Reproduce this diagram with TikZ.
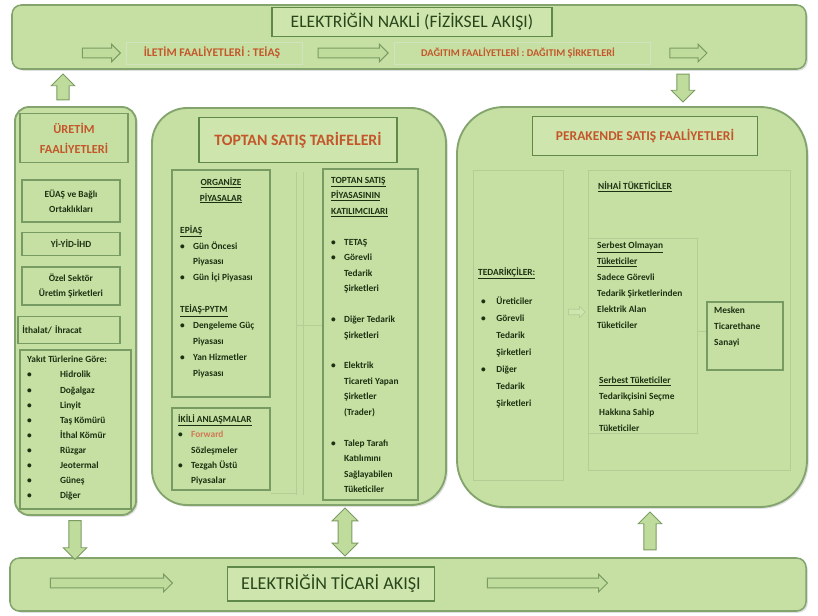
\documentclass[tikz,border=0pt]{standalone}
\usepackage{fontspec}
\setmainfont{Carlito}
\usetikzlibrary{shapes.arrows,fit,positioning,calc,shadows}

\definecolor{vert}{RGB}{198,224,163}
\definecolor{vertclair}{RGB}{206,230,174}
\definecolor{bord}{RGB}{132,164,110}
\definecolor{bordfonce}{RGB}{96,136,72}
\definecolor{filet}{RGB}{178,206,148}
\definecolor{encre}{RGB}{28,48,18}
\definecolor{titrevert}{RGB}{40,70,26}
\definecolor{rouille}{RGB}{196,86,42}
\definecolor{okcizgi}{RGB}{122,156,98}
\definecolor{okdolgu}{RGB}{192,220,156}

\newcommand{\mad}[1][11pt]{\makebox[#1][l]{\textbullet}}
\newcommand{\bos}[1][11pt]{\hspace*{#1}}

\tikzset{
  ombre/.style={drop shadow={shadow xshift=1.5pt, shadow yshift=-1.5pt, opacity=0.25}},
  bande/.style={draw=bord, fill=vert, line width=1.3pt, rounded corners=8pt, inner sep=0pt, ombre},
  panneau/.style={draw=bord, fill=vert, line width=1.6pt, rounded corners=#1, inner sep=0pt, ombre},
  panneau/.default=12pt,
  titre/.style={draw=bordfonce, fill=vertclair, line width=1.1pt, inner sep=0pt},
  boite/.style={draw=bordfonce!85, fill=vert, line width=1.1pt, inner sep=0pt},
  cadre/.style={draw=filet, line width=0.4pt},
  metin/.style={inner sep=0pt, align=left, text=encre, anchor=north west},
  govde/.style={font=\bfseries\fontsize{8}{#1}\selectfont},
  govde/.default=13.2,
  yatayok/.style={single arrow, draw=okcizgi, fill=okdolgu, line width=.8pt, inner sep=0pt, inner ysep=0.13cm,
    minimum width=0.5cm, single arrow head extend=0.12cm, single arrow tip angle=90, minimum height=#1},
  dikeyok/.style={single arrow, draw=okcizgi, fill=okdolgu, line width=.8pt, inner sep=0.17cm,
    minimum width=0.68cm, single arrow head extend=0.17cm, single arrow tip angle=90, minimum height=#1},
  ciftok/.style={double arrow, draw=okcizgi, fill=okdolgu, line width=.8pt, inner sep=0.19cm,
    minimum width=0.75cm, double arrow head extend=0.18cm, double arrow tip angle=90, minimum height=#1}
}

\begin{document}
\begin{tikzpicture}[x=0.03cm, y=-0.03cm]
\useasboundingbox (0,0) rectangle (818,615);

% Bande du haut : flux physique
\node[bande, fit={(12,5) (806,69)}] (nakli) {};
\node[titre, minimum width=8.4cm, minimum height=0.86cm, text=titrevert, font=\fontsize{15}{17}\selectfont] (naklibaslik) at (412,22) {ELEKTRİĞİN NAKLİ (FİZİKSEL AKIŞI)};
\node[text=rouille, font=\bfseries\fontsize{10}{12}\selectfont, inner sep=0pt] (iletim) at (212,53) {İLETİM FAALİYETLERİ : TEİAŞ};
\node[text=rouille, font=\bfseries\fontsize{8.8}{11}\selectfont, inner sep=0pt] (dagitim) at (518,53) {DAĞITIM FAALİYETLERİ : DAĞITIM ŞİRKETLERİ};
\draw[cadre, draw=filet!60] (126,42) rectangle (302,64);
\draw[cadre, draw=filet!60] (394,42) rectangle (650,64);
\node[yatayok=1.14cm] (ok1) at (99,53) {};
\node[yatayok=2.1cm] (ok2) at ($(iletim.east)!0.5!(dagitim.west)$) {};
\node[yatayok=1.11cm] (ok3) at (686,53) {};

% Bande du bas : flux commercial
\node[bande, fit={(10,558) (806,611)}] (ticari) {};
\node[titre, minimum width=6.21cm, minimum height=1.02cm, text=titrevert, font=\fontsize{15.5}{18}\selectfont] (ticaribaslik) at (331,584) {ELEKTRİĞİN TİCARİ AKIŞI};
\node[yatayok=3.66cm] (ok4) at (109,583) {};
\node[yatayok=3.6cm] (ok5) at (545,583) {};

% Colonne de gauche : production
\node[panneau=12pt, fit={(15,107) (136,515)}] (uretim) {};
\node[boite, minimum width=3.24cm, minimum height=1.47cm, text=rouille, align=center, font=\bfseries\fontsize{10.5}{17}\selectfont] (uretimbaslik) at (74,138) {ÜRETİM\\FAALİYETLERİ};
\node[boite, minimum width=2.94cm, minimum height=1.26cm, text=encre, align=center, govde=12.8] (euas) at (71,201) {EÜAŞ ve Bağlı\\Ortaklıkları};
\node[boite, minimum width=2.94cm, minimum height=0.69cm, text=encre, govde] (yiyid) at (71,244) {Yİ-YİD-İHD};
\node[boite, minimum width=2.94cm, minimum height=1.14cm, text=encre, align=center, govde=12.8] (ozel) at (71,286) {Özel Sektör\\Üretim Şirketleri};
\node[boite, minimum width=3.06cm, minimum height=0.81cm, text=encre, govde, text width=2.8cm, align=left] (ithalat) at (69,330) {İthalat/ İhracat};
\node[boite, fit={(20,350) (131,509)}] (yakitkutu) {};
\node[metin, govde=12.9] (yakit) at (27,356) {Yakıt Türlerine Göre:\\
\mad[28pt]Hidrolik\\ \mad[28pt]Doğalgaz\\ \mad[28pt]Linyit\\ \mad[28pt]Taş Kömürü\\ \mad[28pt]İthal Kömür\\
\mad[28pt]Rüzgar\\ \mad[28pt]Jeotermal\\ \mad[28pt]Güneş\\ \mad[28pt]Diğer};

% Panneau central : vente en gros
\node[panneau=30pt, fit={(152,108) (446,505)}] (toptan) {};
\node[titre, minimum width=5.94cm, minimum height=1.35cm, text=rouille, font=\bfseries\fontsize{13.5}{16}\selectfont] (toptanbaslik) at (298,140) {TOPTAN SATIŞ TARİFELERİ};
\node[boite, fit={(172,170) (270,397)}] (organizekutu) {};
\node[inner sep=0pt, align=center, text=encre, govde=13.6, anchor=north] (organize) at (221,177) {\underline{ORGANİZE}\\\underline{PİYASALAR}};
\node[metin, govde=13.6] (epias) at (180,225) {\underline{EPİAŞ}\\
\mad Gün Öncesi\\ \bos Piyasası\\ \mad Gün İçi Piyasası\\[13.6pt]
\underline{TEİAŞ-PYTM}\\ \mad Dengeleme Güç\\ \bos Piyasası\\ \mad Yan Hizmetler\\ \bos Piyasası};
\node[boite, fit={(172,408) (270,490)}] (ikilikutu) {};
\node[metin, govde=13.2] (ikili) at (178,414) {\underline{İKİLİ ANLAŞMALAR}\\
\mad\textcolor{rouille!80}{Forward}\\ \bos Sözleşmeler\\ \mad Tezgah Üstü\\ \bos Piyasalar};
\node[boite, fit={(323,169) (418,500)}] (katilimcikutu) {};
\node[metin, govde=13.2] (katilimci) at (331,177) {\underline{TOPTAN SATIŞ}\\\underline{PİYASASININ}\\\underline{KATILIMCILARI}\\[13.2pt]
\mad TETAŞ\\ \mad Görevli\\ \bos Tedarik\\ \bos Şirketleri\\[13.2pt]
\mad Diğer Tedarik\\ \bos Şirketleri\\[13.2pt]
\mad Elektrik\\ \bos Ticareti Yapan\\ \bos Şirketler\\ \bos (Trader)\\[13.2pt]
\mad Talep Tarafı\\ \bos Katılımını\\ \bos Sağlayabilen\\ \bos Tüketiciler};
% filets verticaux entre les deux colonnes
\draw[cadre] (296,172) -- (296,495);
\draw[cadre] (303,172) -- (303,495);
\draw[cadre] (296,325) -- (katilimcikutu.west |- 0,325);
\draw[cadre] (ikilikutu.east |- 0,493) -- (296,493);

% Panneau de droite : vente au detail
\node[panneau=40pt, fit={(457,107) (807,507)}] (perakende) {};
\node[titre, minimum width=6.75cm, minimum height=1.17cm, text=rouille, font=\bfseries\fontsize{11.5}{14}\selectfont] (perakendebaslik) at (645,136) {PERAKENDE SATIŞ FAALİYETLERİ};
\node[cadre, fit={(473,170) (563,480)}, inner sep=0pt] (tedarikkutu) {};
\node[cadre, fit={(588,170) (790,470)}, inner sep=0pt] (nihaikutu) {};
\draw[cadre] (588,238) -- (697,238) -- (697,433) -- (588,433);
\node[metin, govde] (tedarikbaslik) at (478,267) {\underline{TEDARİKÇİLER:}};
\node[metin, govde=14.5] (tedarik) at (481,297) {\mad[13pt]Üreticiler\\ \mad[13pt]Görevli\\ \bos[13pt]Tedarik\\ \bos[13pt]Şirketleri\\
\mad[13pt]Diğer\\ \bos[13pt]Tedarik\\ \bos[13pt]Şirketleri};
\node[single arrow, draw=filet, fill=vertclair, line width=.6pt, inner sep=0pt, inner ysep=0.07cm, minimum width=0.32cm, single arrow head extend=0.09cm, minimum height=0.5cm] (ok6) at ($(tedarikkutu.east |- 0,312)!0.5!(nihaikutu.west |- 0,312)$) {};
\node[metin, govde] (nihaibaslik) at (598,181) {\underline{NİHAİ TÜKETİCİLER}};
\node[metin, govde=13.6] (serbestolmayan) at (597,242) {\underline{Serbest Olmayan}\\\underline{Tüketiciler}\\Sadece Görevli\\Tedarik Şirketlerinden\\Elektrik Alan\\Tüketiciler};
\node[metin, govde=13.6] (serbest) at (599,377) {\underline{Serbest Tüketiciler}\\Tedarikçisini Seçme\\Hakkına Sahip\\Tüketiciler};
\node[boite, fit={(707,302) (783,370)}] (meskenkutu) {};
\node[metin, govde=13.6] (mesken) at (714,307) {Mesken\\Ticarethane\\Sanayi};
\draw[cadre] (697,331) -- (meskenkutu.west |- 0,331);

% Fleches verticales entre bandes et panneaux
\node[dikeyok=0.78cm, shape border rotate=90] (ok7) at (63,90) {};
\node[dikeyok=0.84cm, shape border rotate=270] (ok8) at (683,85) {};
\node[dikeyok=1.17cm, shape border rotate=270] (ok9) at (75,537) {};
\node[ciftok=1.44cm, shape border rotate=90] (ok10) at (345,532) {};
\node[dikeyok=1.14cm, shape border rotate=90] (ok11) at (650,534) {};

\end{tikzpicture}
\end{document}
